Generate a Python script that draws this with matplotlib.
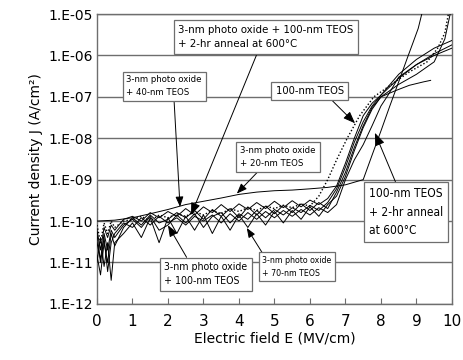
import matplotlib
matplotlib.use('Agg')
import matplotlib.pyplot as plt

# common field grid for the low-field (noisy) part, MV/cm
E_low = [0.0, 0.1, 0.2, 0.3, 0.4, 0.5, 0.75, 1.0, 1.25, 1.5, 1.75, 2.0, 2.25, 2.5, 2.75,
         3.0, 3.25, 3.5, 3.75, 4.0, 4.25, 4.5, 4.75, 5.0, 5.25, 5.5, 5.75, 6.0, 6.25, 6.5]

# 3-nm photo oxide + 100-nm TEOS
J_b_low = [3e-11, 1.2e-11, 5e-11, 2e-11, 6e-11, 4e-11, 8e-11, 1.1e-10, 7e-11, 1.3e-10, 6e-11, 8e-11,
           1.4e-10, 9e-11, 1.5e-10, 7e-11, 1.3e-10, 1.6e-10, 9e-11, 1.5e-10, 1.1e-10, 1.8e-10, 1.2e-10,
           1.9e-10, 1.4e-10, 2.1e-10, 1.6e-10, 2.4e-10, 1.8e-10, 2.8e-10]
E_b_high = [6.75, 7.0, 7.25, 7.5, 7.75, 8.0, 8.5, 9.0, 9.5, 10.0]
J_b_high = [6e-10, 2e-9, 8e-9, 2.5e-8, 6e-8, 1.1e-7, 2.8e-7, 6e-7, 1.1e-6, 1.8e-6]

# 3-nm photo oxide + 70-nm TEOS
J_c_low = [1e-11, 4e-11, 8e-12, 3e-11, 3.7e-12, 3e-11, 5e-11, 9e-11, 4e-11, 1.2e-10, 3e-11, 1.2e-10,
           5e-11, 1.3e-10, 6e-11, 1.4e-10, 5e-11, 1.3e-10, 6e-11, 1.4e-10, 7e-11, 1.5e-10, 8e-11,
           1.7e-10, 9e-11, 1.8e-10, 1.1e-10, 2.2e-10, 1.3e-10, 2.5e-10]
E_c_high = [6.75, 7.0, 7.25, 7.5, 7.75, 8.0, 8.4, 8.8, 9.2, 9.4]
J_c_high = [4e-10, 1.2e-9, 5e-9, 1.8e-8, 5e-8, 1e-7, 1.4e-7, 1.9e-7, 2.3e-7, 2.5e-7]

# 3-nm photo oxide + 20-nm TEOS
J_d_low = [6e-11, 2e-11, 7e-11, 4e-11, 8e-11, 6e-11, 1.1e-10, 1.3e-10, 1e-10, 1.6e-10, 1.2e-10, 1.7e-10,
           1.3e-10, 2e-10, 1.4e-10, 2.2e-10, 1.6e-10, 2.5e-10, 1.7e-10, 2.6e-10, 1.9e-10, 2.8e-10, 2e-10,
           3e-10, 2.1e-10, 3.1e-10, 2.2e-10, 3.2e-10, 2.5e-10, 3.5e-10]
E_d_high = [6.75, 7.0, 7.25, 7.5, 7.75, 8.0, 8.5, 9.0, 9.5, 10.0]
J_d_high = [7e-10, 2.5e-9, 1e-8, 3.5e-8, 7e-8, 1.1e-7, 3.5e-7, 8e-7, 1.5e-6, 2.3e-6]

# 3-nm photo oxide + 100-nm TEOS + 2-hr anneal
J_e_low = [1.5e-11, 5e-12, 3e-11, 1e-11, 5e-11, 2.5e-11, 7e-11, 1.2e-10, 8e-11, 1.4e-10, 9e-11, 1.1e-10,
           1.6e-10, 1.2e-10, 1.8e-10, 1.1e-10, 1.9e-10, 1.3e-10, 2e-10, 1.2e-10, 2.2e-10, 1.4e-10, 2.3e-10,
           1.5e-10, 2.4e-10, 1.6e-10, 2.6e-10, 1.8e-10, 2.8e-10, 2e-10]
E_e_high = [6.75, 7.0, 7.25, 7.5, 7.75, 8.0, 8.5, 9.0, 9.5, 9.8, 9.95]
J_e_high = [5e-10, 1.5e-9, 6e-9, 2e-8, 5.5e-8, 1e-7, 2e-7, 3.5e-7, 7e-7, 2.5e-6, 1e-5]

# 100-nm TEOS (dotted)
J_f_low = [8e-11, 3e-11, 9e-11, 5e-11, 1e-10, 7e-11, 1e-10, 1.1e-10, 1.3e-10, 1e-10, 1.4e-10, 1.2e-10,
           1.5e-10, 1.3e-10, 1.7e-10, 1.4e-10, 1.8e-10, 1.5e-10, 2e-10, 1.7e-10, 2.1e-10, 1.8e-10, 2.3e-10,
           2e-10, 2.4e-10, 2.1e-10, 2.6e-10, 2.3e-10, 4e-10, 1e-9]
E_f_high = [6.75, 7.05, 7.4, 7.8, 8.3, 8.8, 9.3, 9.6, 9.8, 9.9]
J_f_high = [3e-9, 1e-8, 3.5e-8, 1e-7, 2e-7, 4e-7, 7e-7, 1.5e-6, 3.5e-6, 1e-5]

# 100-nm TEOS + 2-hr anneal
J_g_low = [5e-11, 1e-11, 4e-11, 6e-12, 3e-11, 5e-11, 9e-11, 7e-11, 1.2e-10, 8e-11, 1.3e-10, 9e-11,
           1.2e-10, 8e-11, 1.3e-10, 1e-10, 1.4e-10, 9e-11, 1.5e-10, 1e-10, 1.6e-10, 1.1e-10, 1.7e-10,
           1.2e-10, 1.8e-10, 1.3e-10, 1.9e-10, 1.4e-10, 2.1e-10, 1.6e-10]
E_g_high = [6.75, 7.0, 7.25, 7.5, 7.75, 8.0, 8.2, 8.5, 9.0, 9.5, 10.0]
J_g_high = [2.5e-10, 1e-9, 3e-9, 7e-9, 2e-8, 6e-8, 1.1e-7, 3e-7, 6e-7, 1e-6, 1.5e-6]

# 3-nm photo oxide + 40-nm TEOS (upper smooth curve)
E_a = [0.0, 0.5, 1.0, 1.5, 2.0, 2.5, 3.0, 3.5, 4.0, 4.5, 5.0, 5.5, 6.0, 6.5, 7.0, 7.5,
       7.75, 8.0, 8.25, 8.5, 8.75, 8.9, 9.05, 9.15]
J_a = [1e-10, 1.05e-10, 1.2e-10, 1.5e-10, 1.9e-10, 2.5e-10, 3e-10, 3.6e-10, 4.4e-10, 5e-10, 5.4e-10,
       5.6e-10, 6e-10, 6.5e-10, 7.5e-10, 1e-9, 3.9e-9, 1.5e-8, 6e-8, 2.3e-7, 9e-7, 2e-6, 4.5e-6, 1e-5]

yticks = [1e-12, 1e-11, 1e-10, 1e-9, 1e-8, 1e-7, 1e-6, 1e-5]
ytick_labels = ['1.E-12', '1.E-11', '1.E-10', '1.E-09', '1.E-08', '1.E-07', '1.E-06', '1.E-05']
xticks = list(range(0, 11))

fig = plt.figure(figsize=(4.64, 3.6), dpi=100)
ax = fig.add_axes([0.209, 0.156, 0.765, 0.805])
ax.set_yscale('log')

for y in yticks:
    ax.axhline(y, color='#6e6e6e', lw=1.0, zorder=1)

lw = 0.7
ax.plot(E_low + E_b_high, J_b_low + J_b_high, color='black', lw=lw, zorder=3)
ax.plot(E_low + E_c_high, J_c_low + J_c_high, color='black', lw=lw, zorder=3)
ax.plot(E_low + E_d_high, J_d_low + J_d_high, color='black', lw=lw, zorder=3)
ax.plot(E_low + E_e_high, J_e_low + J_e_high, color='black', lw=lw, zorder=3)
ax.plot(E_low + E_f_high, J_f_low + J_f_high, color='black', lw=1.0, ls=(0, (1, 1.5)), zorder=3)
ax.plot(E_low + E_g_high, J_g_low + J_g_high, color='black', lw=lw, zorder=3)
ax.plot(E_a, J_a, color='black', lw=lw, zorder=3)

ax.set_xlim(0, 10)
ax.set_ylim(1e-12, 1e-5)
ax.set_yticks(yticks)
ax.set_yticklabels(ytick_labels)
ax.yaxis.set_minor_locator(matplotlib.ticker.NullLocator())
ax.set_xticks(xticks)
ax.tick_params(axis='x', direction='in', length=4, color='#6e6e6e', labelsize=11, pad=7)
ax.tick_params(axis='y', length=0, labelsize=10, pad=3)
for s in ax.spines.values():
    s.set_color('#6e6e6e')
    s.set_linewidth(1.0)

ax.set_xlabel('Electric field E (MV/cm)', fontsize=10, labelpad=2)
ax.set_ylabel('Current density J (A/cm²)', fontsize=10, labelpad=4)

box = dict(boxstyle='square,pad=0.4', fc='white', ec='#6e6e6e', lw=0.9)
arrow = dict(arrowstyle='-|>,head_length=0.9,head_width=0.35', color='black', lw=0.7,
             shrinkA=0, shrinkB=0)

notes = [
    ('3-nm photo oxide + 100-nm TEOS\n+ 2-hr anneal at 600°C', (4.76, 2.8e-6), (2.65, 1.4e-10), (0.46, 0), 8.2),
    ('3-nm photo oxide\n+ 40-nm TEOS', (1.89, 1.8e-7), (2.34, 2.2e-10), (0.63, 0), 6.8),
    ('100-nm TEOS', (6.0, 1.38e-7), (7.27, 2.3e-8), (0.76, 0), 8.0),
    ('3-nm photo oxide\n+ 20-nm TEOS', (5.1, 3.5e-9), (3.94, 4.6e-10), (0.28, 0), 6.8),
    ('100-nm TEOS\n+ 2-hr anneal\nat 600°C', (8.7, 1.65e-10), (7.83, 1.35e-8), (0.39, 1), 8.6),
    ('3-nm photo oxide\n+ 70-nm TEOS', (5.63, 7.8e-12), (4.22, 6.8e-11), (0.03, 1), 6.3),
    ('3-nm photo oxide\n+ 100-nm TEOS', (3.07, 5.2e-12), (2.0, 7.9e-11), (0.3, 1), 7.6),
]
for txt, xytext, xy, rel, fs in notes:
    a = dict(arrow)
    a['relpos'] = rel
    ax.annotate(txt, xy=xy, xytext=xytext, bbox=box, arrowprops=a, fontsize=fs,
                fontstretch='condensed', ha='center', va='center', multialignment='left',
                linespacing=1.55, zorder=5)

fig.savefig('out.png', dpi=100)
